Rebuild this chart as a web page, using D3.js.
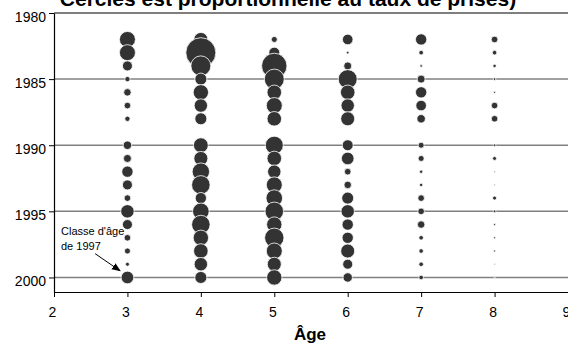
<!DOCTYPE html>
<html>
<head>
<meta charset="utf-8">
<script src="https://cdn.jsdelivr.net/npm/d3@7"></script>
<style>
  body { margin: 0; background: #fff; }
  svg { font-family: "Liberation Sans", Arial, sans-serif; }
</style>
</head>
<body>
<svg id="chart" width="568" height="344"></svg>
<script>
// years shown (1989 has no data)
var years = [1982, 1983, 1984, 1985, 1986, 1987, 1988, 1989, 1990, 1991, 1992, 1993, 1994, 1995, 1996, 1997, 1998, 1999, 2000];
var ages = [3, 4, 5, 6, 7, 8];

// taux de prises par âge (read off the circle areas), null = no circle
var age3 = [6.4, 6.4, 2.5, 0.7, 1.4, 1.1, 0.7, null, 1.8, 1.6, 3.2, 2.5, 1.1, 4.5, 2.5, 1.1, 0.9, 0.4, 4.0];
var age4 = [4.9, 22.5, 10, 3.6, 5.9, 4.5, 3.6, null, 5.5, 4.9, 7.6, 8.6, 3.2, 6.9, 8.6, 5.9, 5.3, 4.5, 3.6];
var age5 = [0.9, 3.0, 16.1, 10, 5.3, 6.4, 5.3, null, 8.1, 5.3, 4.5, 6.4, 6.9, 8.6, 5.9, 9.4, 6.4, 4.9, 5.9];
var age6 = [2.8, 0.17, 1.6, 9.0, 5.3, 4.5, 4.9, null, 3.0, 4.0, 1.1, 1.4, 3.6, 4.5, 3.2, 3.2, 4.9, 2.5, 2.2];
var age7 = [3.2, 0.53, 0.17, 1.6, 3.2, 2.8, 1.8, null, 0.9, 0.9, 0.29, 0.29, 1.1, 1.1, 1.4, 0.53, 0.53, 0.53, 0.53];
var age8 = [1.1, 0.53, 0.29, 0.17, 0.1, 1.1, 1.1, null, 0.17, 0.4, 0.05, 0.05, 0.4, 0.17, 0.1, 0.1, 0.1, 0.04, 0.04];
var series = [age3, age4, age5, age6, age7, age8];

var xTicks = [2, 3, 4, 5, 6, 7, 8, 9];
var yTicks = [1980, 1985, 1990, 1995, 2000];

var svg = d3.select("#chart");

var margin = {top: 13, right: 0, bottom: 52, left: 54},
    width = 568 - margin.left - margin.right,
    height = 344 - margin.top - margin.bottom;

var x = d3.scaleLinear().domain([2, 9]).range([0, width]);
var y = d3.scaleLinear().domain([1980, 2001.1]).range([0, height]);
var r = d3.scaleSqrt().domain([0, 22.5]).range([0, 15]);

var g = svg.append("g")
    .attr("transform", "translate(" + margin.left + "," + margin.top + ")");

// gridlines
g.selectAll(".grid")
    .data(yTicks.slice(1))
    .enter().append("line")
    .attr("x1", 0).attr("x2", width)
    .attr("y1", function(d) { return y(d); })
    .attr("y2", function(d) { return y(d); })
    .attr("stroke", "#808080")
    .attr("stroke-width", 1.5);

// top border
g.append("line")
    .attr("x1", 0).attr("x2", width)
    .attr("y1", y(1980)).attr("y2", y(1980))
    .attr("stroke", "#555")
    .attr("stroke-width", 1.5);

// bubbles
var points = [];
series.forEach(function(s, i) {
    s.forEach(function(v, j) {
        if (v != null) points.push({age: ages[i], year: years[j], value: v});
    });
});

g.selectAll(".dot")
    .data(points)
    .enter().append("circle")
    .attr("class", "dot")
    .attr("cx", function(d) { return x(d.age); })
    .attr("cy", function(d) { return y(d.year); })
    .attr("r", function(d) { return r(d.value); })
    .attr("fill", "#333333")
    .attr("stroke", "#ffffff")
    .attr("stroke-width", 0.8);

// axes
var xAxis = d3.axisBottom(x).tickValues(xTicks).tickSize(5).tickSizeOuter(0).tickFormat(d3.format("d"));
var yAxis = d3.axisLeft(y).tickValues(yTicks).tickSize(5).tickSizeOuter(0).tickFormat(d3.format("d"));

var gX = g.append("g")
    .attr("transform", "translate(0," + height + ")")
    .call(xAxis);
gX.select(".domain").attr("stroke", "#000").attr("stroke-width", 1.2);
gX.selectAll("text").attr("font-size", 14).attr("fill", "#000")
    .attr("y", 25).attr("dy", 0).attr("dx", -2);

var gY = g.append("g").call(yAxis);
gY.select(".domain").attr("stroke", "#000").attr("stroke-width", 1.2);
gY.selectAll("text").attr("font-size", 14).attr("fill", "#000")
    .attr("x", -8).attr("dy", "0.6em");

// title (cut at top, as in the source)
svg.append("text")
    .attr("x", 288).attr("y", 6)
    .attr("text-anchor", "middle")
    .attr("font-size", 21)
    .attr("font-weight", "bold")
    .text("Cercles est proportionnelle au taux de prises)");

// x label
svg.append("text")
    .attr("x", 310).attr("y", 340)
    .attr("text-anchor", "middle")
    .attr("font-size", 17)
    .attr("font-weight", "bold")
    .text("Âge");

// annotation
svg.append("defs").append("marker")
    .attr("id", "arrow")
    .attr("viewBox", "0 0 10 10")
    .attr("refX", 9).attr("refY", 5)
    .attr("markerWidth", 9).attr("markerHeight", 9)
    .attr("markerUnits", "userSpaceOnUse")
    .attr("orient", "auto")
    .append("path")
    .attr("d", "M0,1 L10,5 L0,9 z")
    .attr("fill", "#000");

var note = svg.append("text")
    .attr("x", 61).attr("y", 235)
    .attr("font-size", 11);
note.append("tspan").attr("x", 61).text("Classe d'âge");
note.append("tspan").attr("x", 61).attr("dy", 15).text("de 1997");

g.append("line")
    .attr("x1", x(2.56)).attr("y1", y(1998.2))
    .attr("x2", x(2.9)).attr("y2", y(1999.5))
    .attr("stroke", "#000")
    .attr("stroke-width", 1)
    .attr("marker-end", "url(#arrow)");
</script>
</body>
</html>
